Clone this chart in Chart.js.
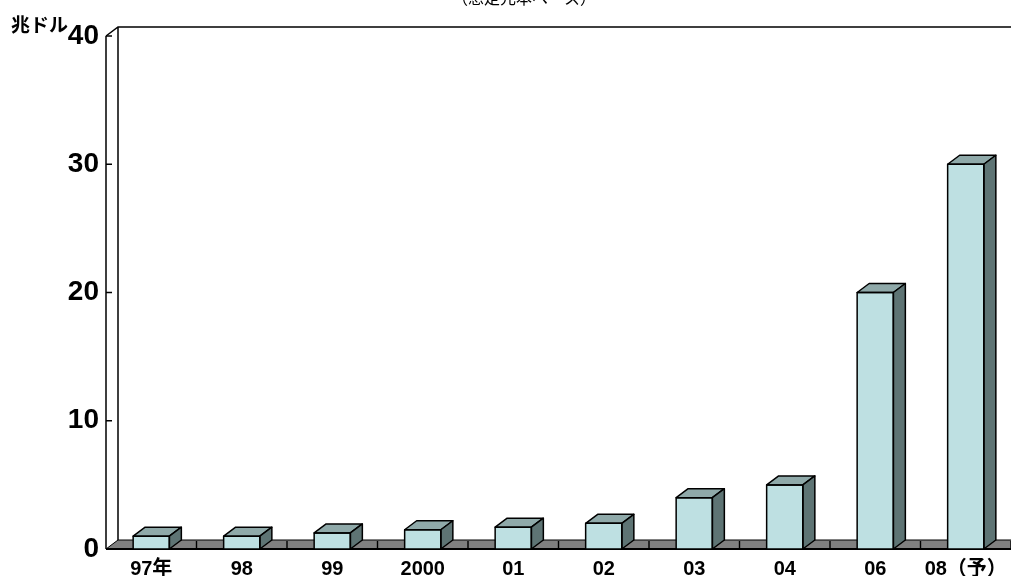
<!DOCTYPE html>
<html>
<head>
<meta charset="utf-8">
<script src="https://cdn.jsdelivr.net/npm/chart.js@4"></script>
<style>
  html, body { margin: 0; padding: 0; background: #fff; }
  #wrap { width: 1011px; height: 576px; }
</style>
</head>
<body>
<div id="wrap"><canvas id="c" width="1011" height="576"></canvas></div>
<script>
// Notional outstanding, trillions of dollars
const categories = ['97年', '98', '99', '2000', '01', '02', '03', '04', '06', '08（予）'];
const notional = [1, 1, 1.25, 1.5, 1.7, 2, 4, 5, 20, 30];
const yTickValues = [0, 10, 20, 30, 40];
const subtitle = '（想定元本ベース）';
const unitLabel = '兆ドル';

const COLORS = {
  front: '#bee0e2',
  top: '#8fa9a9',
  side: '#5e7474',
  floor: '#808080',
  line: '#000000'
};
const DEPTH = { dx: 12, dy: 9 };
const NUM_FONT = '"Liberation Sans", "Noto Sans CJK JP", sans-serif';

// Back wall, floor and front axis of the 3-D box
const boxFrame = {
  id: 'boxFrame',
  beforeDatasetsDraw(chart) {
    const { ctx, chartArea: a, scales: { x, y } } = chart;
    const { dx, dy } = DEPTH;
    const y0 = y.getPixelForValue(0);
    const yTop = y.getPixelForValue(yTickValues[yTickValues.length - 1]);
    const far = chart.width + dx;
    ctx.save();
    ctx.strokeStyle = COLORS.line;
    ctx.lineWidth = 1.5;
    ctx.beginPath();
    ctx.moveTo(a.left, yTop);
    ctx.lineTo(a.left + dx, yTop - dy);
    ctx.lineTo(far, yTop - dy);
    ctx.moveTo(a.left + dx, yTop - dy);
    ctx.lineTo(a.left + dx, y0 - dy);
    ctx.stroke();

    // floor
    ctx.beginPath();
    ctx.moveTo(a.left, y0);
    ctx.lineTo(a.left + dx, y0 - dy);
    ctx.lineTo(far + dx, y0 - dy);
    ctx.lineTo(far, y0);
    ctx.closePath();
    ctx.fillStyle = COLORS.floor;
    ctx.fill();
    ctx.lineWidth = 1;
    ctx.stroke();

    // category dividers on the floor
    ctx.beginPath();
    for (let i = 1; i <= categories.length; i++) {
      const bx = (x.getPixelForValue(i - 1) + x.getPixelForValue(i)) / 2;
      ctx.moveTo(bx, y0 - dy + 1);
      ctx.lineTo(bx, y0);
    }
    ctx.lineWidth = 1.4;
    ctx.stroke();

    // front floor edge
    ctx.beginPath();
    ctx.moveTo(a.left, y0);
    ctx.lineTo(far, y0);
    ctx.lineWidth = 2;
    ctx.stroke();

    // front value axis and inward ticks
    ctx.beginPath();
    ctx.moveTo(a.left, yTop);
    ctx.lineTo(a.left, y0);
    yTickValues.forEach(v => {
      const ty = y.getPixelForValue(v);
      ctx.moveTo(a.left, ty);
      ctx.lineTo(a.left + 6, ty);
    });
    ctx.lineWidth = 1.5;
    ctx.stroke();
    ctx.restore();
  }
};

// Top and side faces of every bar
const barFaces = {
  id: 'barFaces',
  afterDatasetsDraw(chart) {
    const { ctx } = chart;
    const { dx, dy } = DEPTH;
    const meta = chart.getDatasetMeta(0);
    ctx.save();
    ctx.strokeStyle = COLORS.line;
    ctx.lineWidth = 1.5;
    ctx.lineJoin = 'round';
    meta.data.forEach(bar => {
      const { x, y, base, width } = bar.getProps(['x', 'y', 'base', 'width'], true);
      const l = x - width / 2, r = x + width / 2;
      // top
      ctx.beginPath();
      ctx.moveTo(l, y);
      ctx.lineTo(l + dx, y - dy);
      ctx.lineTo(r + dx, y - dy);
      ctx.lineTo(r, y);
      ctx.closePath();
      ctx.fillStyle = COLORS.top;
      ctx.fill();
      ctx.stroke();
      // side
      ctx.beginPath();
      ctx.moveTo(r, y);
      ctx.lineTo(r + dx, y - dy);
      ctx.lineTo(r + dx, base - dy);
      ctx.lineTo(r, base);
      ctx.closePath();
      ctx.fillStyle = COLORS.side;
      ctx.fill();
      ctx.stroke();
      // front outline
      ctx.strokeRect(l, y, width, base - y);
    });
    ctx.restore();
  }
};

// Subtitle and unit caption
const captions = {
  id: 'captions',
  afterDraw(chart) {
    const { ctx } = chart;
    ctx.save();
    ctx.fillStyle = '#000';
    ctx.textAlign = 'center';
    ctx.textBaseline = 'alphabetic';
    ctx.font = '16px "Noto Sans CJK JP", sans-serif';
    ctx.fillText(subtitle, 524, 4);
    ctx.textAlign = 'left';
    ctx.textBaseline = 'middle';
    ctx.font = 'bold 19px "Noto Sans CJK JP", sans-serif';
    ctx.fillText(unitLabel, 11, 25);
    ctx.restore();
  }
};

new Chart(document.getElementById('c'), {
  type: 'bar',
  data: {
    labels: categories,
    datasets: [{
      data: notional,
      backgroundColor: COLORS.front,
      borderColor: COLORS.line,
      borderWidth: 0,
      barPercentage: 0.4,
      categoryPercentage: 1.0
    }]
  },
  options: {
    responsive: false,
    animation: false,
    events: [],
    layout: { padding: { top: 36, left: 0, right: 0, bottom: 0 } },
    plugins: {
      legend: { display: false },
      title: { display: false },
      tooltip: { enabled: false }
    },
    scales: {
      x: {
        type: 'category',
        grid: { display: false, drawTicks: false },
        border: { display: false },
        ticks: {
          color: '#000',
          padding: 8,
          maxRotation: 0,
          autoSkip: false,
          font: { family: NUM_FONT, size: 20, weight: 'bold' }
        },
        afterFit(scale) {
          scale.height = 27;
          scale.paddingLeft = 0;
          scale.paddingRight = 0;
        }
      },
      y: {
        min: 0,
        max: 40,
        grid: { display: false, drawTicks: false },
        border: { display: false },
        afterBuildTicks(scale) { scale.ticks = yTickValues.map(v => ({ value: v })); },
        ticks: {
          color: '#000',
          padding: 7,
          font: { family: NUM_FONT, size: 28, weight: 'bold' }
        },
        afterFit(scale) { scale.width = 106; }
      }
    }
  },
  plugins: [boxFrame, barFaces, captions]
});
</script>
</body>
</html>
